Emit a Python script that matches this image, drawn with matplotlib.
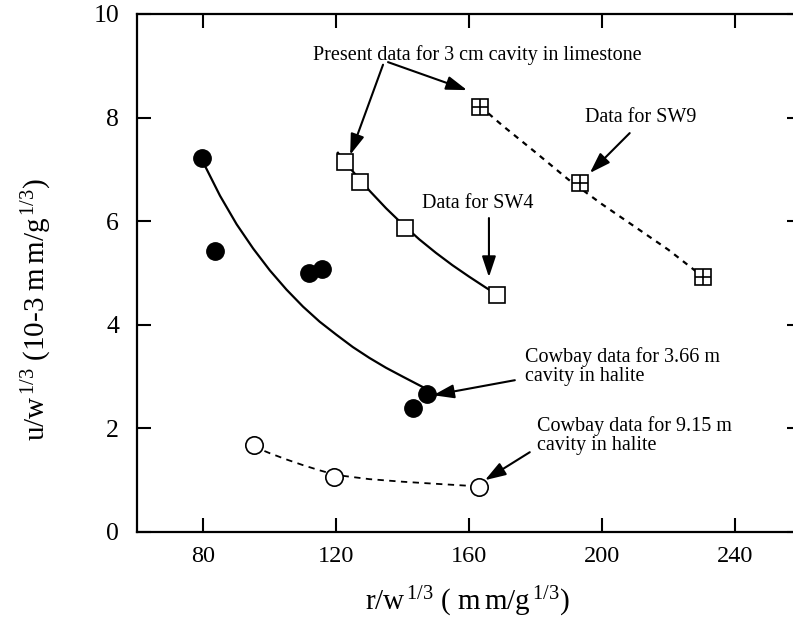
import matplotlib
matplotlib.use("Agg")
import matplotlib.pyplot as plt

plt.rcParams['font.family'] = ['Liberation Serif', 'DejaVu Serif']
plt.rcParams['mathtext.fontset'] = 'custom'
plt.rcParams['mathtext.rm'] = 'Liberation Serif'
plt.rcParams['mathtext.it'] = 'Liberation Serif'

# Cowbay 3.66 m cavity (filled circles) and fit curve
halite366_x = [79.7, 83.6, 111.9, 115.8, 143.2, 147.4]
halite366_y = [7.22, 5.42, 5.00, 5.08, 2.39, 2.66]
fit366_x = [80.6, 85, 90, 95, 100, 105, 110, 115, 120, 125, 130, 135, 140, 146]
fit366_y = [7.05, 6.49, 5.94, 5.47, 5.05, 4.68, 4.35, 4.06, 3.81, 3.57, 3.36,
            3.17, 3.00, 2.80]

# Cowbay 9.15 m cavity (open circles) and dashed fit
halite915_x = [95.1, 119.2, 163.0]
halite915_y = [1.68, 1.06, 0.87]
fit915_x = [95.1, 100, 105, 110, 115, 120, 130, 140, 150, 163.0]
fit915_y = [1.65, 1.52, 1.40, 1.29, 1.19, 1.10, 1.02, 0.97, 0.93, 0.88]

# present data, SW4 (open squares) and fit
sw4_x = [122.7, 127.2, 140.8, 168.4]
sw4_y = [7.14, 6.76, 5.87, 4.58]
fitsw4_x = [120.5, 125, 130, 135, 140, 145, 150, 155, 160, 165, 170]
fitsw4_y = [7.32, 6.96, 6.59, 6.25, 5.94, 5.65, 5.39, 5.15, 4.93, 4.72, 4.52]

# present data, SW9 (crossed squares) and dotted fit
sw9_x = [163.3, 193.4, 230.4]
sw9_y = [8.20, 6.74, 4.92]
fitsw9_x = [163.3, 170, 180, 190, 200, 210, 220, 229]
fitsw9_y = [8.22, 7.85, 7.33, 6.80, 6.33, 5.89, 5.45, 5.00]

xticks = [80, 120, 160, 200, 240]
yticks = [0, 2, 4, 6, 8, 10]

fig = plt.figure(figsize=(7.93, 6.23), dpi=100)
ax = fig.add_axes([0.1728, 0.1461, 0.8373, 0.8315])
ax.set_xlim(60, 260)
ax.set_ylim(0, 10)

# fitted curves
ax.plot(fit366_x, fit366_y, color='black', lw=1.6)
ax.plot(fitsw4_x, fitsw4_y, color='black', lw=1.6)
ax.plot(fit915_x, fit915_y, color='black', lw=1.3, dashes=(3.5, 3))
ax.plot(fitsw9_x, fitsw9_y, color='black', lw=1.6, dashes=(2.5, 2.5))

# data points
ax.plot(halite366_x, halite366_y, 'o', color='black', ms=12.5)
ax.plot(halite915_x, halite915_y, 'o', mfc='white', mec='black', mew=1.2, ms=12.5)
ax.plot(sw4_x, sw4_y, 's', mfc='white', mec='black', mew=1.2, ms=12)
ax.plot(sw9_x, sw9_y, 's', mfc='white', mec='black', mew=1.2, ms=11)
ax.plot(sw9_x, sw9_y, '+', color='black', mew=1.2, ms=11)

# axes styling (right spine falls just outside the scanned picture)
for sp in ax.spines.values():
    sp.set_linewidth(1.6)
ax.spines['right'].set_visible(False)
ax.set_xticks(xticks)
ax.set_yticks(yticks)
ax.tick_params(direction='in', length=10, width=1.5, top=True, right=True)
ax.tick_params(axis='x', labelsize=17.5, pad=10)
ax.tick_params(axis='y', labelsize=18.5, pad=13)
ax.set_xlabel(r'r/w$^{\,1/3}$ ( m$\,$m/g$^{\,1/3}$)', fontsize=21)
ax.set_ylabel(r'u/w$^{\,1/3}$ (10-3 m$\,$m/g$^{\,1/3}$)', fontsize=21)
ax.xaxis.set_label_coords(0.497, -0.102)
ax.yaxis.set_label_coords(-0.125, 0.429)

# annotations
arrow = dict(arrowstyle='-|>,head_length=0.9,head_width=0.3', color='black',
             lw=1.5, shrinkA=0, shrinkB=0, mutation_scale=14)
fs = 14.5

ax.text(113.1, 9.21, 'Present data for 3 cm cavity in limestone',
        fontsize=14.5, ha='left', va='center')
ax.annotate('', xy=(124.2, 7.28), xytext=(134.1, 9.02), arrowprops=arrow)
ax.annotate('', xy=(159.4, 8.53), xytext=(135.6, 9.07), arrowprops=arrow)

ax.text(194.9, 8.01, 'Data for SW9', fontsize=fs, ha='left', va='center')
ax.annotate('', xy=(196.4, 6.93), xytext=(208.4, 7.70), arrowprops=arrow)

ax.text(145.9, 6.35, 'Data for SW4', fontsize=fs, ha='left', va='center')
ax.annotate('', xy=(166.0, 4.92), xytext=(166.0, 6.06), arrowprops=arrow)

ax.text(176.8, 3.19, 'Cowbay data for 3.66 m\ncavity in halite', fontsize=fs,
        ha='left', va='center', linespacing=1.0)
ax.annotate('', xy=(149.2, 2.64), xytext=(173.8, 2.93), arrowprops=arrow)

ax.text(180.4, 1.87, 'Cowbay data for 9.15 m\ncavity in halite', fontsize=fs,
        ha='left', va='center', linespacing=1.0)
ax.annotate('', xy=(164.8, 1.00), xytext=(178.3, 1.54), arrowprops=arrow)

fig.savefig('out.png', dpi=100)
